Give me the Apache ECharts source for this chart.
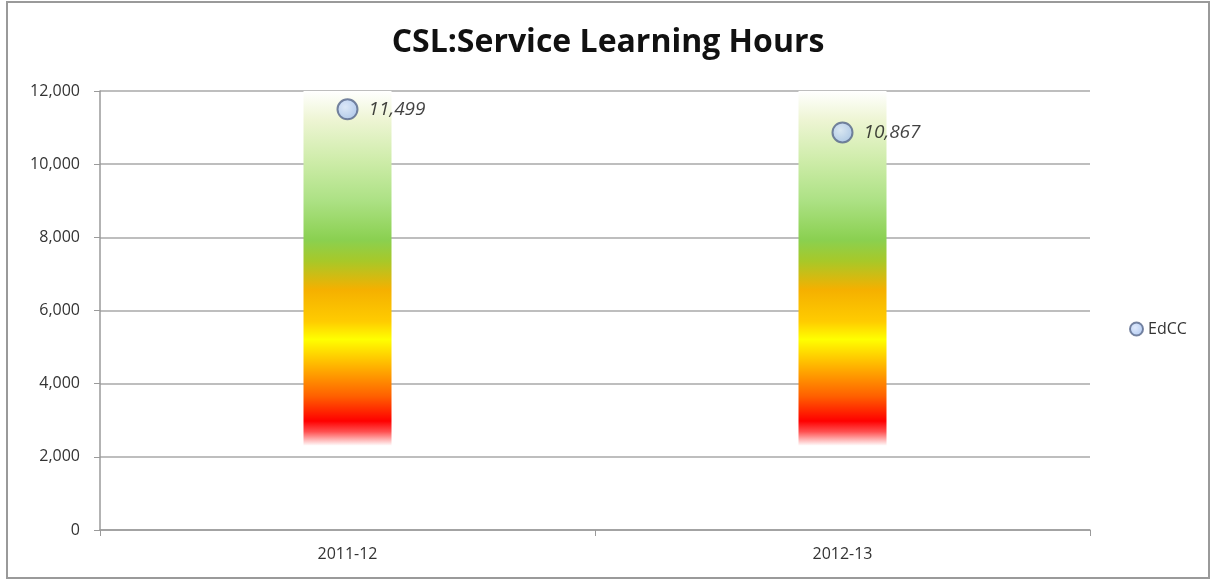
<!DOCTYPE html>
<html lang="en">
<head>
    <meta charset="UTF-8">
    <title>CSL:Service Learning Hours</title>
    <script type="text/javascript" src="https://cdn.jsdelivr.net/npm/echarts@6/dist/echarts.min.js"></script>
    <style>
        html, body { margin: 0; padding: 0; background: #fff; }
    </style>
</head>
<body>
    <div id="main" style="width: 1216px;height:584px;"></div>
    <script type="text/javascript">
        // data
        var years = ['2011-12', '2012-13'];
        var hours = [11499, 10867];
        var bandLow = [2300, 2300];     // bottom of the coloured target band
        var bandHigh = [12000, 12000];  // top of the coloured target band
        var yTicks = [0, 2000, 4000, 6000, 8000, 10000, 12000];

        var bandSize = bandHigh.map(function (v, i) { return v - bandLow[i]; });

        var band = new echarts.graphic.LinearGradient(0, 0, 0, 1, [
            { offset: 0, color: '#ffffff' },
            { offset: 0.08, color: '#eef5d4' },
            { offset: 0.2, color: '#cdeca8' },
            { offset: 0.31, color: '#ace184' },
            { offset: 0.42, color: '#8ad050' },
            { offset: 0.48, color: '#a8c828' },
            { offset: 0.56, color: '#f5b000' },
            { offset: 0.65, color: '#ffcc00' },
            { offset: 0.7, color: '#ffff00' },
            { offset: 0.79, color: '#ffa500' },
            { offset: 0.86, color: '#ff6000' },
            { offset: 0.93, color: '#ff0000' },
            { offset: 0.96, color: '#ff5050' },
            { offset: 1, color: '#ffffff' }
        ]);

        var myChart = echarts.init(document.getElementById('main'));

        var option = {
            animation: false,
            textStyle: { fontFamily: 'Open Sans' },
            graphic: [{
                type: 'rect',
                shape: { x: 7, y: 2, width: 1202, height: 576 },
                style: { fill: 'none', stroke: '#9a9a9a', lineWidth: 2 },
                silent: true
            }],
            title: {
                text: 'CSL:Service Learning Hours',
                left: 'center',
                top: 22,
                textStyle: { fontSize: 32, fontWeight: 'bold', color: '#111', fontFamily: 'Open Sans' }
            },
            legend: {
                data: [{ name: 'EdCC', icon: 'circle' }],
                left: 1124,
                top: 316,
                itemWidth: 13,
                itemHeight: 13,
                itemGap: 4,
                textStyle: { fontSize: 16, color: '#333' }
            },
            grid: { left: 100, right: 126, top: 91, bottom: 54 },
            xAxis: {
                type: 'category',
                data: years,
                axisLine: { lineStyle: { color: '#9a9a9a', width: 1.5 } },
                axisTick: { show: true, length: 6, lineStyle: { color: '#9a9a9a' } },
                axisLabel: { fontSize: 16, color: '#333', margin: 16 }
            },
            yAxis: {
                type: 'value',
                min: yTicks[0],
                max: yTicks[yTicks.length - 1],
                interval: 2000,
                axisLine: { show: true, lineStyle: { color: '#9a9a9a', width: 1.5 } },
                axisTick: { show: true, length: 6, lineStyle: { color: '#9a9a9a' } },
                splitLine: { lineStyle: { color: '#a8a8a8', width: 1.5 } },
                axisLabel: {
                    fontSize: 16, color: '#333', margin: 20,
                    formatter: function (v) { return v.toLocaleString('en-US'); }
                }
            },
            series: [{
                name: 'base',
                type: 'bar',
                stack: 'band',
                data: bandLow,
                barWidth: 88,
                itemStyle: { color: 'transparent' },
                silent: true
            }, {
                name: 'band',
                type: 'bar',
                stack: 'band',
                data: bandSize,
                barWidth: 88,
                itemStyle: { color: band },
                silent: true
            }, {
                name: 'EdCC',
                type: 'scatter',
                data: hours,
                symbol: 'circle',
                symbolSize: 20,
                itemStyle: {
                    color: new echarts.graphic.RadialGradient(0.4, 0.4, 0.7, [
                        { offset: 0, color: '#d6e4fb' },
                        { offset: 1, color: '#9bb9ec' }
                    ]),
                    borderColor: '#56678a',
                    borderWidth: 2
                },
                label: {
                    show: true,
                    position: 'right',
                    distance: 10,
                    fontSize: 19,
                    fontStyle: 'italic',
                    color: '#111',
                    formatter: function (p) { return p.value.toLocaleString('en-US'); }
                },
                z: 5
            }]
        };

        myChart.setOption(option);
    </script>
</body>
</html>
